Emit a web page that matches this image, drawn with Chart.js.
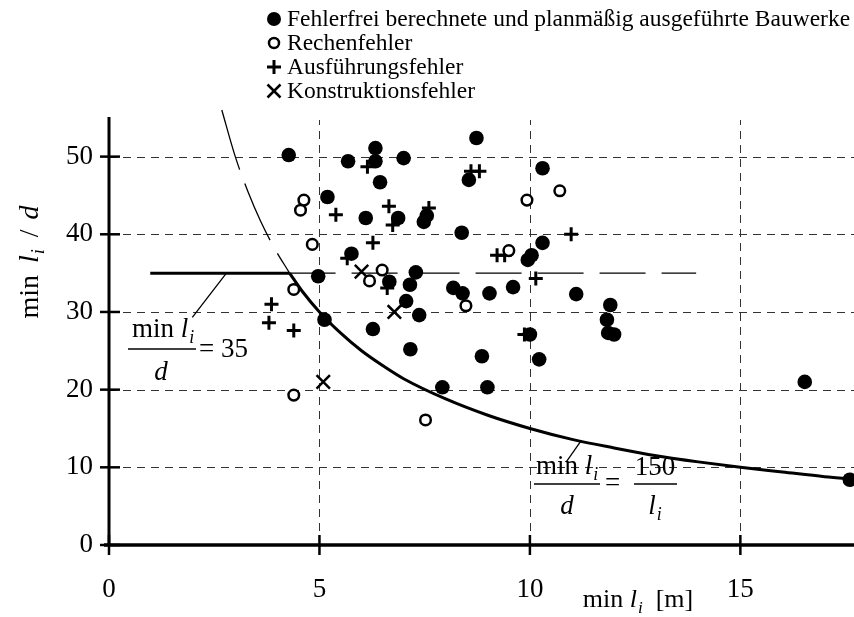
<!DOCTYPE html>
<html><head><meta charset="utf-8">
<script src="https://cdn.jsdelivr.net/npm/chart.js@4.4.1/dist/chart.umd.min.js"></script>
<style>html,body{margin:0;padding:0;background:#fff;overflow:hidden}#wrap{width:854px;height:617px;position:relative}</style>
</head><body><div id="wrap"><canvas id="c" width="854" height="617"></canvas></div>
<script>
// ---------- data ----------
const legendLabels = ['Fehlerfrei berechnete und planmäßig ausgeführte Bauwerke', 'Rechenfehler', 'Ausführungsfehler', 'Konstruktionsfehler'];
const xTicks = [0, 5, 10, 15];
const yTicks = [0, 10, 20, 30, 40, 50];

const fehlerfreiX = [4.27,5.68,6.33,6.33,7.0,6.44,5.19,6.1,6.87,7.48,7.55,8.73,8.55,10.3,8.38,10.3,10.04,9.95,5.76,4.97,7.29,6.66,7.15,8.18,8.4,9.04,9.6,11.1,7.06,7.37,5.12,6.27,7.16,8.86,10.22,10.0,11.91,11.83,11.86,12.0,7.92,8.99,16.53,17.6];
const fehlerfreiY = [50.2,49.4,51.1,49.4,49.8,46.7,44.8,42.1,42.1,41.6,42.4,52.4,47.0,48.5,40.2,38.9,37.3,36.7,37.5,34.6,35.1,33.9,33.5,33.1,32.4,32.4,33.2,32.3,31.4,29.6,29.0,27.8,25.2,24.3,23.9,27.1,30.9,29.0,27.3,27.1,20.3,20.3,21.0,8.4];

const rechenX = [4.63,4.55,4.83,4.39,4.39,6.49,6.19,8.48,7.52,9.93,10.71,9.5];
const rechenY = [44.4,43.1,38.7,32.9,19.3,35.4,34.0,30.8,16.1,44.4,45.6,37.9];

const ausfX = [6.14,5.39,6.65,6.74,6.27,7.6,8.6,8.8,5.66,6.61,3.86,3.8,4.39,9.22,9.4,10.14,10.98,9.87];
const ausfY = [48.7,42.5,43.6,41.2,38.9,43.4,48.1,48.1,36.9,33.1,31.0,28.6,27.6,37.3,37.3,34.3,40.0,27.1];

const konstrX = [6.0, 6.78, 5.09];
const konstrY = [35.2, 30.0, 21.0];

// curve min l / d = 150 / l
const curveUpperX = [2.68, 3.0, 3.3, 3.6, 3.9, 4.29];
const curveUpperY = [56, 50, 45.5, 41.7, 38.5, 35];
const curveX = [4.29,4.6,5,5.5,6,6.5,7,8,9,10,11,12,13,14,15,16,17,17.75];
const curveY = [35,32.6,30,27.3,25,23.1,21.4,18.8,16.7,15,13.6,12.5,11.5,10.7,10,9.4,8.8,8.45];

// line min l / d = 35
const line35SolidX = [0.98, 4.29];
const line35SolidY = [35, 35];
const line35DashX = [4.29, 13.95];
const line35DashY = [35, 35];

// leader lines of the two formula labels
const leader35X = [2.79, 1.98];
const leader35Y = [35, 29.3];
const leader150X = [11.21, 10.86];
const leader150Y = [13.36, 10.66];

// ---------- helpers ----------
const pts = (xs, ys) => xs.map((x, i) => ({x, y: ys[i]}));
const FONT = '"Liberation Serif", "Times New Roman", serif';
function setFont(ctx, size, it) { ctx.font = (it ? 'italic ' : '') + size + 'px ' + FONT; }
function richWidth(ctx, parts, size) {
  let w = 0;
  for (const p of parts) { setFont(ctx, p.sub ? size * 0.66 : size, p.it); w += ctx.measureText(p.t).width + (p.dx || 0); }
  return w;
}
function richDraw(ctx, parts, x, y, size, align) {
  const w = richWidth(ctx, parts, size);
  let cx = align === 'center' ? x - w / 2 : (align === 'right' ? x - w : x);
  ctx.textAlign = 'left'; ctx.textBaseline = 'alphabetic'; ctx.fillStyle = '#000';
  for (const p of parts) {
    const s = p.sub ? size * 0.66 : size;
    setFont(ctx, s, p.it);
    ctx.fillText(p.t, cx, y + (p.sub ? size * 0.22 : 0));
    cx += ctx.measureText(p.t).width + (p.dx || 0);
  }
}
function line(ctx, x1, y1, x2, y2, w) { ctx.lineWidth = w; ctx.beginPath(); ctx.moveTo(x1, y1); ctx.lineTo(x2, y2); ctx.stroke(); }

function marker(ctx, type, x, y) {
  ctx.save(); ctx.strokeStyle = '#000'; ctx.fillStyle = '#000';
  if (type === 0) { ctx.beginPath(); ctx.arc(x, y, 7, 0, Math.PI * 2); ctx.fill(); }
  else if (type === 1) { ctx.lineWidth = 2.5; ctx.beginPath(); ctx.arc(x, y, 5, 0, Math.PI * 2); ctx.stroke(); }
  else if (type === 2) { line(ctx, x - 7, y, x + 7, y, 3); line(ctx, x, y - 7, x, y + 7, 3); }
  else { line(ctx, x - 6.5, y - 6.5, x + 6.5, y + 6.5, 2.5); line(ctx, x - 6.5, y + 6.5, x + 6.5, y - 6.5, 2.5); }
  ctx.restore();
}

const decor = {
  id: 'decor',
  beforeDatasetsDraw(chart) {
    const {ctx, chartArea: a, scales: {x, y}} = chart;
    ctx.save();
    ctx.strokeStyle = '#333'; ctx.lineWidth = 1; ctx.setLineDash([8, 6]);
    for (const v of yTicks) if (v > 0) { const py = Math.round(y.getPixelForValue(v)) + 0.5; line(ctx, a.left, py, a.right, py, 1); }
    for (const v of xTicks) if (v > 0) { const px = Math.round(x.getPixelForValue(v)) + 0.5; line(ctx, px, a.bottom, px, a.top + 3, 1); }
    ctx.setLineDash([]);
    ctx.strokeStyle = '#000';
    const x0 = x.getPixelForValue(0), y0 = y.getPixelForValue(0);
    line(ctx, x0, y0, x0, a.top, 3);
    line(ctx, x0 - 5, y0, a.right, y0, 3.5);
    for (const v of yTicks) { const py = y.getPixelForValue(v); line(ctx, x0 - 9, py, x0 + 11, py, 2.5); }
    for (const v of xTicks) { const px = x.getPixelForValue(v); line(ctx, px, y0 - 10, px, y0 + 10, 2.5); }
    ctx.restore();
  },
  afterDatasetsDraw(chart) {
    const {ctx} = chart;
    ctx.save();
    ctx.strokeStyle = '#000'; ctx.fillStyle = '#000';
    // legend
    const rows = [19, 43, 67, 91];
    legendLabels.forEach((t, i) => {
      marker(ctx, i, 274, rows[i]);
      setFont(ctx, 23.5, false); ctx.textAlign = 'left'; ctx.textBaseline = 'middle';
      ctx.fillText(t, 287, rows[i] + 1);
    });
    // axis titles
    richDraw(ctx, [{t: 'min '}, {t: 'l', it: true, dx: 1}, {t: 'i', it: true, sub: true}, {t: '  [m]'}], 638, 607, 26, 'center');
    ctx.save(); ctx.translate(38, 262); ctx.rotate(-Math.PI / 2);
    richDraw(ctx, [{t: 'min', dx: 12}, {t: 'l', it: true, dx: 1}, {t: 'i', it: true, sub: true, dx: 12}, {t: '/', dx: 10}, {t: 'd', it: true}], 0, 0, 28, 'center');
    ctx.restore();
    // formula 1
    richDraw(ctx, [{t: 'min '}, {t: 'l', it: true, dx: 1}, {t: 'i', it: true, sub: true}], 163, 337, 27, 'center');
    line(ctx, 128, 349, 196, 349, 1.5);
    richDraw(ctx, [{t: 'd', it: true}], 161, 380, 27, 'center');
    richDraw(ctx, [{t: '= 35'}], 199, 357, 27, 'left');
    // formula 2
    richDraw(ctx, [{t: 'min '}, {t: 'l', it: true, dx: 1}, {t: 'i', it: true, sub: true}], 567, 474, 27, 'center');
    line(ctx, 534, 484, 600, 484, 1.5);
    richDraw(ctx, [{t: 'd', it: true}], 567, 514, 27, 'center');
    richDraw(ctx, [{t: '='}], 605, 491, 27, 'left');
    richDraw(ctx, [{t: '150'}], 655, 475, 27, 'center');
    line(ctx, 634, 484, 677, 484, 1.5);
    richDraw(ctx, [{t: 'l', it: true, dx: 1}, {t: 'i', it: true, sub: true}], 655, 514, 27, 'center');
    ctx.restore();
  }
};

const lineDs = (xs, ys, w, dash) => ({type: 'line', data: pts(xs, ys), borderColor: '#000', borderWidth: w, borderDash: dash || [], pointRadius: 0, showLine: true, fill: false, cubicInterpolationMode: 'monotone', order: 2, clip: false});

new Chart(document.getElementById('c'), {
  type: 'scatter',
  data: {
    datasets: [
      {label: legendLabels[0], data: pts(fehlerfreiX, fehlerfreiY), pointStyle: 'circle', pointRadius: 7.3, backgroundColor: '#000', borderColor: '#000', borderWidth: 0, order: 0, clip: false},
      {label: legendLabels[1], data: pts(rechenX, rechenY), pointStyle: 'circle', pointRadius: 5.3, backgroundColor: '#fff', borderColor: '#000', borderWidth: 2.5, order: 0, clip: false},
      {label: legendLabels[2], data: pts(ausfX, ausfY), pointStyle: 'cross', pointRadius: 7, borderColor: '#000', borderWidth: 3, order: 0, clip: false},
      {label: legendLabels[3], data: pts(konstrX, konstrY), pointStyle: 'crossRot', pointRadius: 9.5, borderColor: '#000', borderWidth: 2.5, order: 0, clip: false},
      lineDs(curveX, curveY, 3),
      lineDs(curveUpperX, curveUpperY, 1.3, [62, 15]),
      lineDs(line35SolidX, line35SolidY, 3),
      lineDs(line35DashX, line35DashY, 1.3, [46, 16]),
      lineDs(leader35X, leader35Y, 1.3),
      lineDs(leader150X, leader150Y, 1.3)
    ]
  },
  options: {
    responsive: false, animation: false, devicePixelRatio: 1,
    layout: {autoPadding: false, padding: {top: 117, right: 0, left: 0, bottom: 0}},
    plugins: {legend: {display: false}, tooltip: {enabled: false}},
    scales: {
      x: {type: 'linear', min: 0, max: 17.7,
          afterFit: s => { s.height = 72; s.paddingLeft = 0; s.paddingRight = 0; },
          afterBuildTicks: s => { s.ticks = xTicks.map(v => ({value: v})); },
          grid: {display: false, drawTicks: false}, border: {display: false},
          ticks: {color: '#000', padding: 29, maxRotation: 0, font: {family: FONT, size: 27}}},
      y: {type: 'linear', min: 0, max: 55.1,
          afterFit: s => { s.width = 109; s.paddingTop = 0; s.paddingBottom = 0; },
          afterBuildTicks: s => { s.ticks = yTicks.map(v => ({value: v})); },
          grid: {display: false, drawTicks: false}, border: {display: false},
          ticks: {color: '#000', padding: 16, font: {family: FONT, size: 27}}}
    }
  },
  plugins: [decor]
});
</script>
</body></html>
